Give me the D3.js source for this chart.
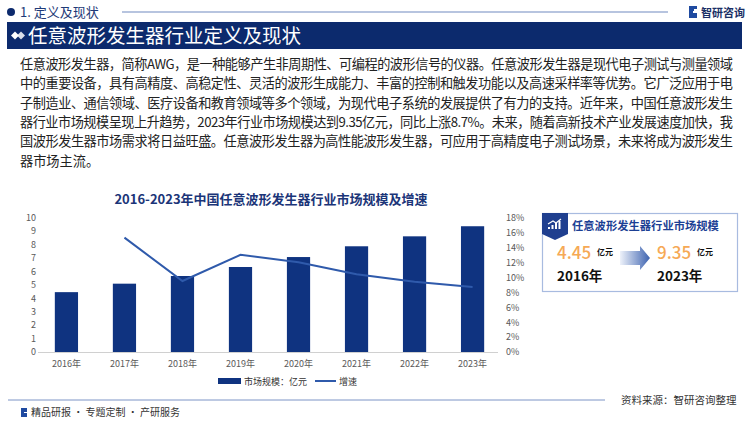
<!DOCTYPE html>
<html>
<head>
<meta charset="utf-8">
<script src="https://cdn.jsdelivr.net/npm/d3@7"></script>
<style>
  html, body { margin: 0; padding: 0; background: #fff; }
  svg { display: block; font-family: "Noto Sans CJK SC", "Noto Sans", sans-serif; }
</style>
</head>
<body>
<div id="chart"></div>
<script>
// chart data
const years = ["2016年", "2017年", "2018年", "2019年", "2020年", "2021年", "2022年", "2023年"];
const marketSize = [4.45, 5.08, 5.65, 6.32, 7.06, 7.86, 8.60, 9.35];   // 亿元
const growth = [null, 15.3, 9.5, 13.0, 12.0, 10.4, 9.4, 8.7];          // %
const leftTicks = [0, 1, 2, 3, 4, 5, 6, 7, 8, 9, 10];
const rightTicks = [0, 2, 4, 6, 8, 10, 12, 14, 16, 18];

const paragraph = [
  "任意波形发生器，简称AWG，是一种能够产生非周期性、可编程的波形信号的仪器。任意波形发生器是现代电子测试与测量领域",
  "中的重要设备，具有高精度、高稳定性、灵活的波形生成能力、丰富的控制和触发功能以及高速采样率等优势。它广泛应用于电",
  "子制造业、通信领域、医疗设备和教育领域等多个领域，为现代电子系统的发展提供了有力的支持。近年来，中国任意波形发生",
  "器行业市场规模呈现上升趋势，2023年行业市场规模达到9.35亿元，同比上涨8.7%。未来，随着高新技术产业发展速度加快，我",
  "国波形发生器市场需求将日益旺盛。任意波形发生器为高性能波形发生器，可应用于高精度电子测试场景，未来将成为波形发生",
  "器市场主流。"
];

const W = 750, H = 421;
const navy = "#0c2a6d", barColor = "#0f3380", lineColor = "#2f5aab";

const svg = d3.select("#chart").append("svg").attr("width", W).attr("height", H);

// header
svg.append("circle").attr("cx", 11).attr("cy", 12).attr("r", 4).attr("fill", navy);
svg.append("text").attr("x", 20).attr("y", 17).attr("font-size", 13).attr("fill", "#1e3a78").text("1. 定义及现状");
svg.append("line").attr("x1", 122).attr("x2", 668).attr("y1", 12).attr("y2", 12)
  .attr("stroke", "#9fb1d4").attr("stroke-width", 1.5);
// logo
const logo = svg.append("g").attr("transform", "translate(689,6)");
logo.append("path").attr("d", "M0,0h8v5h-4v2h4v5h-8z").attr("fill", "#1f4aa0");
logo.append("path").attr("d", "M5,3h4v2h-4z").attr("fill", "#ffffff");
logo.append("text").attr("x", 12).attr("y", 10.5).attr("font-size", 11).attr("font-weight", "bold")
  .attr("fill", "#1a2f66").text("智研咨询");

// banner
svg.append("rect").attr("x", 7).attr("y", 22).attr("width", 735).attr("height", 27).attr("fill", navy);
svg.append("path").attr("d", "M11,35.5l4,-4l4,4l-4,4z").attr("fill", "#fff");
svg.append("path").attr("d", "M17,35.5l4,-4l4,4l-4,4z").attr("fill", "#fff").attr("opacity", 0.85);
svg.append("text").attr("x", 28).attr("y", 43).attr("font-size", 19.5).attr("fill", "#fff")
  .text("任意波形发生器行业定义及现状");

// paragraph
svg.append("g").selectAll("text").data(paragraph).join("text")
  .attr("x", 20)
  .attr("y", (d, i) => 69 + i * 19.3)
  .attr("font-size", 13.2)
  .attr("fill", "#222")
  .attr("textLength", (d, i) => i < paragraph.length - 1 ? 713 : null)
  .attr("lengthAdjust", "spacing")
  .text(d => d);

// chart title
svg.append("text").attr("x", 271).attr("y", 204).attr("text-anchor", "middle")
  .attr("font-size", 13).attr("font-weight", "bold").attr("fill", "#1b3578")
  .text("2016-2023年中国任意波形发生器行业市场规模及增速");

// scales
const x = d3.scaleBand().domain(years).range([38, 501]).paddingInner(0.6).paddingOuter(0.29);
const y = d3.scaleLinear().domain([0, 10]).range([352, 217.5]);
const y2 = d3.scaleLinear().domain([0, 18]).range([352, 217.5]);

// axes
const leftAxis = svg.append("g").attr("transform", "translate(36,0)")
  .call(d3.axisLeft(y).tickValues(leftTicks).tickSize(0).tickPadding(0));
const rightAxis = svg.append("g").attr("transform", "translate(506,0)")
  .call(d3.axisRight(y2).tickValues(rightTicks).tickSize(0).tickPadding(0).tickFormat(d => d + "%"));
const bottomAxis = svg.append("g").attr("transform", "translate(0,352)")
  .call(d3.axisBottom(x).tickSize(0).tickPadding(9));
[leftAxis, rightAxis].forEach(g => g.select(".domain").remove());
bottomAxis.select(".domain").attr("stroke", "#d0d0d0").attr("d", "M38,0.5H498");
svg.selectAll(".tick text").attr("font-size", 9).attr("fill", "#595959")
  .attr("font-family", "'Noto Sans CJK SC', sans-serif");

// bars
svg.append("g").selectAll("rect").data(marketSize).join("rect")
  .attr("x", (d, i) => x(years[i]))
  .attr("y", d => y(d))
  .attr("width", x.bandwidth())
  .attr("height", d => y(0) - y(d))
  .attr("fill", barColor);

// growth line
const line = d3.line()
  .defined(d => d.v != null)
  .x(d => x(d.year) + x.bandwidth() / 2)
  .y(d => y2(d.v));
svg.append("path")
  .datum(years.map((yr, i) => ({ year: yr, v: growth[i] })))
  .attr("d", line).attr("fill", "none").attr("stroke", lineColor).attr("stroke-width", 2);

// legend
const lg = svg.append("g").attr("transform", "translate(218,381)");
lg.append("rect").attr("x", 0).attr("y", -3).attr("width", 23).attr("height", 6).attr("fill", barColor);
lg.append("text").attr("x", 26).attr("y", 3.5).attr("font-size", 9).attr("fill", "#333").text("市场规模：亿元");
lg.append("line").attr("x1", 97).attr("x2", 118).attr("y1", 0).attr("y2", 0).attr("stroke", lineColor).attr("stroke-width", 2);
lg.append("text").attr("x", 121).attr("y", 3.5).attr("font-size", 9).attr("fill", "#333").text("增速");

// side panel
const panel = svg.append("g");
panel.append("rect").attr("x", 542.5).attr("y", 213.5).attr("width", 195).attr("height", 78)
  .attr("fill", "#fff").attr("stroke", "#a8bbe0").attr("stroke-width", 1.2);
panel.append("path").attr("d", "M542,213h26v21l-13,6l-13,-6z").attr("fill", "#1f3f8f");
// small chart icon
const ic = panel.append("g").attr("transform", "translate(548,219)").attr("fill", "#fff");
[[0, 8, 2], [3.5, 6, 4], [7, 4, 6], [10.5, 2, 8]].forEach(b =>
  ic.append("rect").attr("x", b[0]).attr("y", 10 - b[2]).attr("width", 2).attr("height", b[2]));
ic.append("path").attr("d", "M0,5L5,2L8,4L13,0").attr("stroke", "#fff").attr("fill", "none").attr("stroke-width", 1.2);
panel.append("text").attr("x", 572).attr("y", 230).attr("font-size", 11.3).attr("font-weight", "bold")
  .attr("fill", "#1c3f94").text("任意波形发生器行业市场规模");

const grad = svg.append("defs").append("linearGradient").attr("id", "arrowGrad");
grad.append("stop").attr("offset", "0%").attr("stop-color", "#eef2fa");
grad.append("stop").attr("offset", "100%").attr("stop-color", "#3d63b0");
panel.append("path").attr("d", "M620,251h20v-5l10,12l-10,12v-5h-20z").attr("fill", "url(#arrowGrad)");

const panelVals = [
  { v: "4.45", yr: "2016年", x: 557 },
  { v: "9.35", yr: "2023年", x: 657 }
];
panelVals.forEach(p => {
  panel.append("text").attr("x", p.x).attr("y", 259).attr("font-size", 17).attr("font-weight", 500)
    .attr("fill", "#f6a955").text(p.v);
  panel.append("text").attr("x", p.x + 40).attr("y", 255).attr("font-size", 8).attr("font-weight", "bold")
    .attr("fill", "#111").text("亿元");
  panel.append("text").attr("x", p.x).attr("y", 281).attr("font-size", 13.5).attr("font-weight", "bold")
    .attr("fill", "#111").text(p.yr);
});

// footer
svg.append("line").attr("x1", 8).attr("x2", 605).attr("y1", 400).attr("y2", 400)
  .attr("stroke", "#7d94c6").attr("stroke-width", 1);
svg.append("text").attr("x", 621).attr("y", 404).attr("font-size", 10.5).attr("fill", "#333").text("资料来源：智研咨询整理");
const fl = svg.append("g").attr("transform", "translate(21,408)");
fl.append("path").attr("d", "M0,0h6v4h-3v1h3v4h-6z").attr("fill", "#1f4aa0");
svg.append("text").attr("x", 31).attr("y", 416).attr("font-size", 10).attr("fill", "#333")
  .text("精品研报 · 专题定制 · 产研服务");
</script>
</body>
</html>
